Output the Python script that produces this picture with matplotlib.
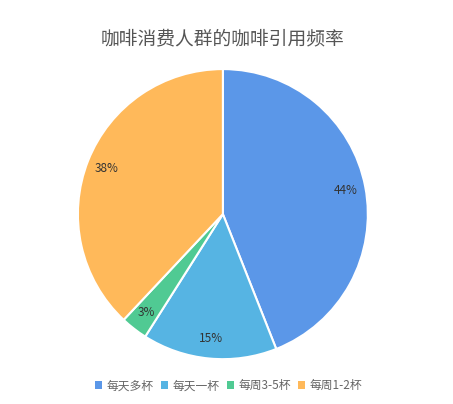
import matplotlib.pyplot as plt
from matplotlib.patches import Patch

plt.rcParams['font.family'] = ['Noto Sans CJK SC', 'DejaVu Sans']

labels = ['每天多杯', '每天一杯', '每周3-5杯', '每周1-2杯']
values = [44, 15, 3, 38]
colors = ['#5b97e8', '#56b4e3', '#50ca93', '#ffb95a']

fig = plt.figure(figsize=(4.53, 4.04), dpi=100)
ax = fig.add_axes([0.172, 0.111, 0.640, 0.718])

wedges, texts, autotexts = ax.pie(
    values, colors=colors, startangle=90, counterclock=False,
    autopct='%d%%', pctdistance=0.86,
    wedgeprops=dict(edgecolor='white', linewidth=1.5),
    textprops=dict(fontsize=8.5, color='#333333'))
ax.set_aspect('auto')
ax.set_xlim(-1, 1)
ax.set_ylim(-1, 1)

fig.text(0.492, 0.905, '咖啡消费人群的咖啡引用频率', ha='center', va='center',
         fontsize=13.5, color='#555555')

handles = [Patch(facecolor=c, edgecolor='none') for c in colors]
fig.legend(handles, labels, loc='center', bbox_to_anchor=(0.505, 0.045), ncol=4,
           frameon=False, fontsize=8.5, handlelength=0.6, handleheight=0.6,
           handletextpad=0.4, columnspacing=0.6, labelcolor='#666666')

fig.savefig('out.png', dpi=100)
